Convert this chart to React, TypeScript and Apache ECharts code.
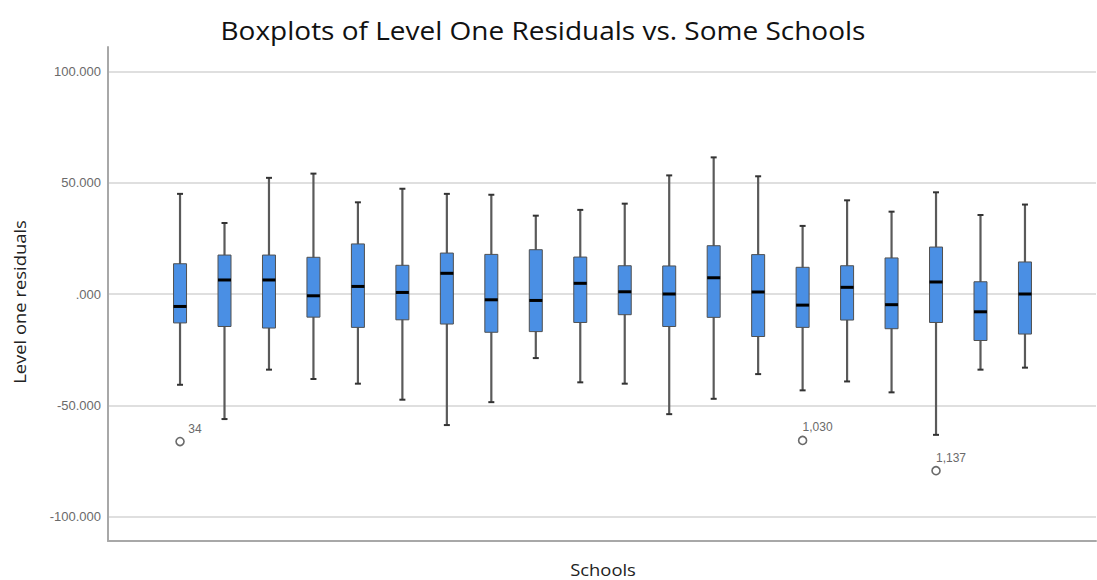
import React, { useEffect, useRef } from "react";
import * as echarts from "echarts";

const schools = ["1", "2", "3", "4", "5", "6", "7", "8", "9", "10", "11", "12", "13", "14", "15", "16", "17", "18", "19", "20"];
const whiskerHigh = [45.0, 31.9, 52.2, 54.1, 41.2, 47.3, 45.0, 44.6, 35.2, 37.8, 40.6, 53.3, 61.4, 52.9, 30.6, 42.1, 37.0, 45.7, 35.5, 40.2];
const q3 = [13.6, 17.5, 17.5, 16.5, 22.5, 12.9, 18.4, 17.8, 19.9, 16.6, 12.7, 12.6, 21.7, 17.7, 12.0, 12.7, 16.2, 21.1, 5.5, 14.4];
const median = [-5.6, 6.3, 6.3, -0.8, 3.4, 0.7, 9.3, -2.6, -2.9, 4.8, 1.0, 0.0, 7.3, 0.9, -5.0, 3.0, -4.8, 5.4, -8.0, 0.0];
const q1 = [-13.0, -14.6, -15.3, -10.4, -15.0, -11.6, -13.5, -17.2, -16.9, -12.8, -9.3, -14.6, -10.5, -19.1, -15.0, -11.7, -15.6, -12.8, -20.9, -18.0];
const whiskerLow = [-40.8, -56.2, -34.0, -38.2, -40.3, -47.5, -58.9, -48.6, -28.8, -39.7, -40.3, -54.0, -47.1, -36.0, -43.3, -39.3, -44.2, -63.3, -34.0, -33.1];

const outlierSchool = [0, 14, 17];
const outlierValue = [-66.3, -65.8, -79.4];
const outlierLabel = ["34", "1,030", "1,137"];

const yTicks = [-100, -50, 0, 50, 100];

const TITLE = "Boxplots of Level One Residuals vs. Some Schools";
const Y_NAME = "Level one residuals";
const X_NAME = "Schools";

export default function App() {
  const ref = useRef<HTMLDivElement>(null);
  useEffect(() => {
    if (!ref.current) return;
    const chart = echarts.init(ref.current, null, { renderer: "svg" });
    const boxData = schools.map((_, i) => [i, whiskerLow[i], q1[i], median[i], q3[i], whiskerHigh[i]]);
    const outData = outlierSchool.map((s, i) => [s, outlierValue[i], outlierLabel[i]]);
    const yMin = -111;
    const yMax = 111;
    const option: any = {
      animation: false,
      backgroundColor: "#ffffff",
      grid: [
        { left: 108, right: 1, top: 47, bottom: 39 },
        { left: 157.8, right: 49.8, top: 47, bottom: 39 },
      ],
      xAxis: [
        {
          gridIndex: 0,
          type: "value",
          min: 0,
          max: 1,
          axisLine: { show: true, onZero: false, lineStyle: { color: "#a8a8a8", width: 2 } },
          axisTick: { show: false },
          axisLabel: { show: false },
          splitLine: { show: false },
        },
        {
          gridIndex: 1,
          type: "category",
          data: schools,
          axisLine: { show: false },
          axisTick: { show: false },
          axisLabel: { show: false },
          splitLine: { show: false },
        },
      ],
      yAxis: [
        {
          gridIndex: 0,
          type: "value",
          min: yMin,
          max: yMax,
          splitNumber: 5,
          axisLine: { show: true, onZero: false, lineStyle: { color: "#a8a8a8", width: 2 } },
          axisTick: { show: false },
          axisLabel: {
            show: true,
            showMinLabel: false,
            showMaxLabel: false,
            color: "#6a6a6a",
            fontFamily: "Liberation Sans, Arial, sans-serif",
            fontSize: 13,
            margin: 7,
            formatter: (v: number) => (yTicks.indexOf(v) >= 0 ? (v === 0 ? ".000" : v.toFixed(3)) : ""),
          },
          splitLine: {
            show: true,
            showMinLine: false,
            showMaxLine: false,
            lineStyle: { color: "#d4d4d4", width: 1.5 },
          },
        },
        {
          gridIndex: 1,
          type: "value",
          min: yMin,
          max: yMax,
          show: false,
          splitLine: { show: false },
        },
      ],
      graphic: [
        {
          type: "text",
          x: 543,
          y: 31,
          scaleX: 1.12,
          style: {
            text: TITLE,
            fill: "#111111",
            font: "25px 'Open Sans', sans-serif",
            align: "center",
            verticalAlign: "middle",
          },
        },
        {
          type: "text",
          x: 20,
          y: 302,
          rotation: Math.PI / 2,
          scaleX: 1.15,
          style: {
            text: Y_NAME,
            fill: "#222222",
            font: "16px 'Open Sans', sans-serif",
            align: "center",
            verticalAlign: "middle",
          },
        },
        {
          type: "text",
          x: 603,
          y: 570,
          scaleX: 1.15,
          style: {
            text: X_NAME,
            fill: "#222222",
            font: "16px 'Open Sans', sans-serif",
            align: "center",
            verticalAlign: "middle",
          },
        },
      ],
      series: [
        {
          type: "custom",
          xAxisIndex: 1,
          yAxisIndex: 1,
          data: boxData,
          encode: { x: 0, y: [1, 2, 3, 4, 5] },
          renderItem: (params: any, api: any) => {
            const idx = api.value(0);
            const pLow = api.coord([idx, api.value(1)]);
            const pQ1 = api.coord([idx, api.value(2)]);
            const pMed = api.coord([idx, api.value(3)]);
            const pQ3 = api.coord([idx, api.value(4)]);
            const pHigh = api.coord([idx, api.value(5)]);
            const cx = pLow[0];
            const w = 13;
            const cap = 3;
            return {
              type: "group",
              children: [
                { type: "line", shape: { x1: cx, y1: pHigh[1], x2: cx, y2: pLow[1] }, style: { stroke: "#5a5a5a", lineWidth: 2.2 } },
                { type: "line", shape: { x1: cx - cap, y1: pHigh[1], x2: cx + cap, y2: pHigh[1] }, style: { stroke: "#333333", lineWidth: 2 } },
                { type: "line", shape: { x1: cx - cap, y1: pLow[1], x2: cx + cap, y2: pLow[1] }, style: { stroke: "#333333", lineWidth: 2 } },
                {
                  type: "rect",
                  shape: { x: cx - w / 2, y: pQ3[1], width: w, height: pQ1[1] - pQ3[1] },
                  style: { fill: "#4a8fe4", stroke: "#505050", lineWidth: 1 },
                },
                { type: "line", shape: { x1: cx - w / 2, y1: pMed[1], x2: cx + w / 2, y2: pMed[1] }, style: { stroke: "#000000", lineWidth: 3 } },
              ],
            };
          },
          z: 3,
        },
        {
          type: "scatter",
          xAxisIndex: 1,
          yAxisIndex: 1,
          data: outData,
          symbol: "circle",
          symbolSize: 8,
          itemStyle: { color: "#ffffff", borderColor: "#6a6a6a", borderWidth: 1.6, opacity: 1 },
          label: {
            show: true,
            position: "inside",
            offset: [15, -13],
            formatter: (p: any) => p.data[2],
            color: "#6a6a6a",
            fontFamily: "Liberation Sans, Arial, sans-serif",
            fontSize: 12,
          },
          z: 4,
        },
      ],
    };
    chart.setOption(option);
    return () => chart.dispose();
  }, []);
  return (
    <div
      ref={ref}
      style={{ position: "fixed", left: 0, top: 0, width: 1097, height: 580, background: "#fff" }}
    />
  );
}
